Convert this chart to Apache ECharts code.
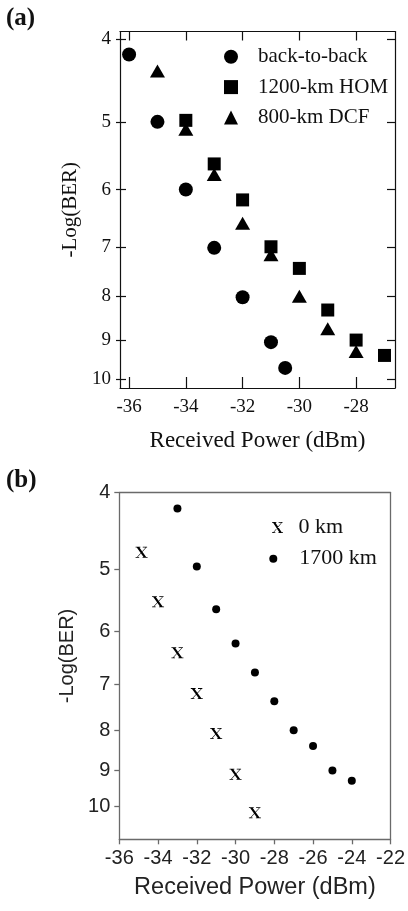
<!DOCTYPE html>
<html>
<head>
<meta charset="utf-8">
<script src="https://cdn.jsdelivr.net/npm/echarts@6/dist/echarts.min.js"></script>
<style>
html,body{margin:0;padding:0;background:#fff;}
#c{width:408px;height:911px;}
</style>
</head>
<body>
<div id="c"></div>
<script>
// ---- Panel (a) data ----
const xTicksA = [-36, -34, -32, -30, -28];
const yTicks = [4, 5, 6, 7, 8, 9, 10];
const b2bX = [-36, -35, -34, -33, -32, -31, -30.5];
const b2bY = [4.17, 5.0, 6.0, 7.02, 8.02, 9.05, 9.7];
const homX = [-34, -33, -32, -31, -30, -29, -28, -27];
const homY = [4.98, 5.6, 6.17, 7.0, 7.42, 8.3, 9.0, 9.38];
const dcfX = [-35, -34, -33, -32, -31, -30, -29, -28];
const dcfY = [4.36, 5.1, 5.76, 6.57, 7.15, 8.0, 8.73, 9.28];
const namesA = ['back-to-back', '1200-km HOM', '800-km DCF'];
// ---- Panel (b) data ----
const xTicksB = [-36, -34, -32, -30, -28, -26, -24, -22];
const km0X = [-34.85, -34, -33, -32, -31, -30, -29];
const km0Y = [4.76, 5.5, 6.38, 7.19, 8.08, 9.1, 10.18];
const km1700X = [-33, -32, -31, -30, -29, -28, -27, -26, -25, -24];
const km1700Y = [4.19, 4.96, 5.62, 6.21, 6.76, 7.35, 8.0, 8.38, 9.0, 9.27];
const namesB = ['0 km', '1700 km'];

const zip = (xs, ys) => xs.map((x, i) => [x, ys[i]]);
const SERIF = '"Liberation Serif","Times New Roman",serif';
const SANS = '"Liberation Sans",Arial,sans-serif';
const X_GLYPH = 'path://M0 0H40V7H32L88 93H100V100H58V93H66L10 7H0Z M60 0H96V7H90L18 93H30V100H0V93H12L84 7H60Z';

const chart = echarts.init(document.getElementById('c'), null, {renderer: 'canvas'});

const axA = {color: '#111', width: 1.2};
const axB = {color: '#6a6a6a', width: 1.3};
const mark = {color: '#000', opacity: 1};

const option = {
  backgroundColor: '#fff',
  animation: false,
  title: [
    {text: '(a)', left: 6, top: 6, padding: 0, textStyle: {fontFamily: SERIF, fontWeight: 'bold', fontSize: 25, color: '#111'}},
    {text: '(b)', left: 6, top: 468, padding: 0, textStyle: {fontFamily: SERIF, fontWeight: 'bold', fontSize: 25, color: '#111'}}
  ],
  grid: [
    {left: 120, top: 31.5, width: 275, height: 356.5, containLabel: false},
    {left: 119.3, top: 492.7, width: 273.2, height: 346.6, containLabel: false}
  ],
  legend: [
    {data: namesA, orient: 'vertical', left: 224, top: 46.3, padding: 0, itemWidth: 14, itemHeight: 14, itemGap: 9.3,
     itemStyle: {opacity: 1},
     textStyle: {fontFamily: SERIF, fontSize: 21, color: '#111', padding: [0, 0, 0, 15], lineHeight: 14}, selectedMode: false},
    {data: [namesB[0]], orient: 'vertical', left: 272, top: 516.5, padding: 0, itemWidth: 12, itemHeight: 11,
     itemStyle: {opacity: 1},
     textStyle: {fontFamily: SERIF, fontSize: 22, color: '#111', padding: [0, 0, 0, 10], lineHeight: 11}, selectedMode: false},
    {data: [namesB[1]], orient: 'vertical', left: 269.3, top: 547.7, padding: 0, itemWidth: 8, itemHeight: 8,
     itemStyle: {opacity: 1},
     textStyle: {fontFamily: SERIF, fontSize: 22, color: '#111', padding: [0, 0, 0, 17], lineHeight: 8}, selectedMode: false}
  ],
  xAxis: [
    {gridIndex: 0, type: 'value', min: -36.32, max: -26.63, position: 'bottom',
     axisLine: {lineStyle: axA}, splitLine: {show: false},
     axisTick: {inside: true, length: 11, lineStyle: axA, customValues: xTicksA},
     axisLabel: {customValues: xTicksA, fontFamily: SERIF, fontSize: 19, color: '#111', margin: 10},
     name: 'Received Power (dBm)', nameLocation: 'middle', nameGap: 41,
     nameTextStyle: {fontFamily: SERIF, fontSize: 23, color: '#111'}},
    {gridIndex: 0, type: 'value', min: -36.32, max: -26.63, position: 'top',
     axisLine: {lineStyle: axA}, splitLine: {show: false},
     axisTick: {inside: true, length: 9, lineStyle: axA, customValues: xTicksA},
     axisLabel: {show: false}},
    {gridIndex: 1, type: 'value', min: -36, max: -22, interval: 2, position: 'bottom',
     axisLine: {lineStyle: axB}, splitLine: {show: false},
     axisTick: {inside: false, length: 5, lineStyle: axB},
     axisLabel: {fontFamily: SANS, fontSize: 20, color: '#222', margin: 9},
     name: 'Received Power (dBm)', nameLocation: 'middle', nameGap: 36,
     nameTextStyle: {fontFamily: SANS, fontSize: 23.5, color: '#222'}},
    {gridIndex: 1, type: 'value', min: -36, max: -22, interval: 2, position: 'top',
     axisLine: {lineStyle: axB}, splitLine: {show: false},
     axisTick: {show: false}, axisLabel: {show: false}}
  ],
  yAxis: [
    {gridIndex: 0, type: 'log', logBase: 10, min: 3.92, max: 10.24, inverse: true, position: 'left',
     axisLine: {lineStyle: axA}, splitLine: {show: false},
     axisTick: {inside: true, length: 6, lineStyle: axA, customValues: yTicks},
     axisLabel: {customValues: yTicks, fontFamily: SERIF, fontSize: 19, color: '#111', margin: 9},
     name: '-Log(BER)', nameLocation: 'middle', nameGap: 37, nameRotate: 90,
     nameTextStyle: {fontFamily: SERIF, fontSize: 21, color: '#111'}},
    {gridIndex: 0, type: 'log', logBase: 10, min: 3.92, max: 10.24, inverse: true, position: 'left',
     axisLine: {show: false}, splitLine: {show: false},
     axisTick: {inside: false, length: 4, lineStyle: axA, customValues: yTicks},
     axisLabel: {show: false}},
    {gridIndex: 0, type: 'log', logBase: 10, min: 3.92, max: 10.24, inverse: true, position: 'right',
     axisLine: {lineStyle: axA}, splitLine: {show: false},
     axisTick: {inside: true, length: 8, lineStyle: axA, customValues: yTicks},
     axisLabel: {show: false}},
    {gridIndex: 1, type: 'log', logBase: 10, min: 4, max: 11, inverse: true, position: 'left',
     axisLine: {lineStyle: axB}, splitLine: {show: false},
     axisTick: {inside: false, length: 5, lineStyle: axB, customValues: yTicks},
     axisLabel: {customValues: yTicks, fontFamily: SANS, fontSize: 20, color: '#222', margin: 9},
     name: '-Log(BER)', nameLocation: 'middle', nameGap: 40, nameRotate: 90,
     nameTextStyle: {fontFamily: SANS, fontSize: 20, color: '#222', padding: [0, 0, 0, 20]}},
    {gridIndex: 1, type: 'log', logBase: 10, min: 4, max: 11, inverse: true, position: 'right',
     axisLine: {lineStyle: axB}, splitLine: {show: false},
     axisTick: {show: false}, axisLabel: {show: false}}
  ],
  series: [
    {name: namesA[0], type: 'scatter', xAxisIndex: 0, yAxisIndex: 0, symbol: 'circle', symbolSize: 14,
     itemStyle: mark, data: zip(b2bX, b2bY)},
    {name: namesA[1], type: 'scatter', xAxisIndex: 0, yAxisIndex: 0, symbol: 'rect', symbolSize: 13,
     itemStyle: mark, data: zip(homX, homY)},
    {name: namesA[2], type: 'scatter', xAxisIndex: 0, yAxisIndex: 0, symbol: 'triangle', symbolSize: [15, 13],
     itemStyle: mark, data: zip(dcfX, dcfY)},
    {name: namesB[0], type: 'scatter', xAxisIndex: 2, yAxisIndex: 3, symbol: X_GLYPH, symbolSize: [12, 11],
     itemStyle: mark, data: zip(km0X, km0Y)},
    {name: namesB[1], type: 'scatter', xAxisIndex: 2, yAxisIndex: 3, symbol: 'circle', symbolSize: 8,
     itemStyle: mark, data: zip(km1700X, km1700Y)}
  ]
};
chart.setOption(option);
</script>
</body>
</html>
